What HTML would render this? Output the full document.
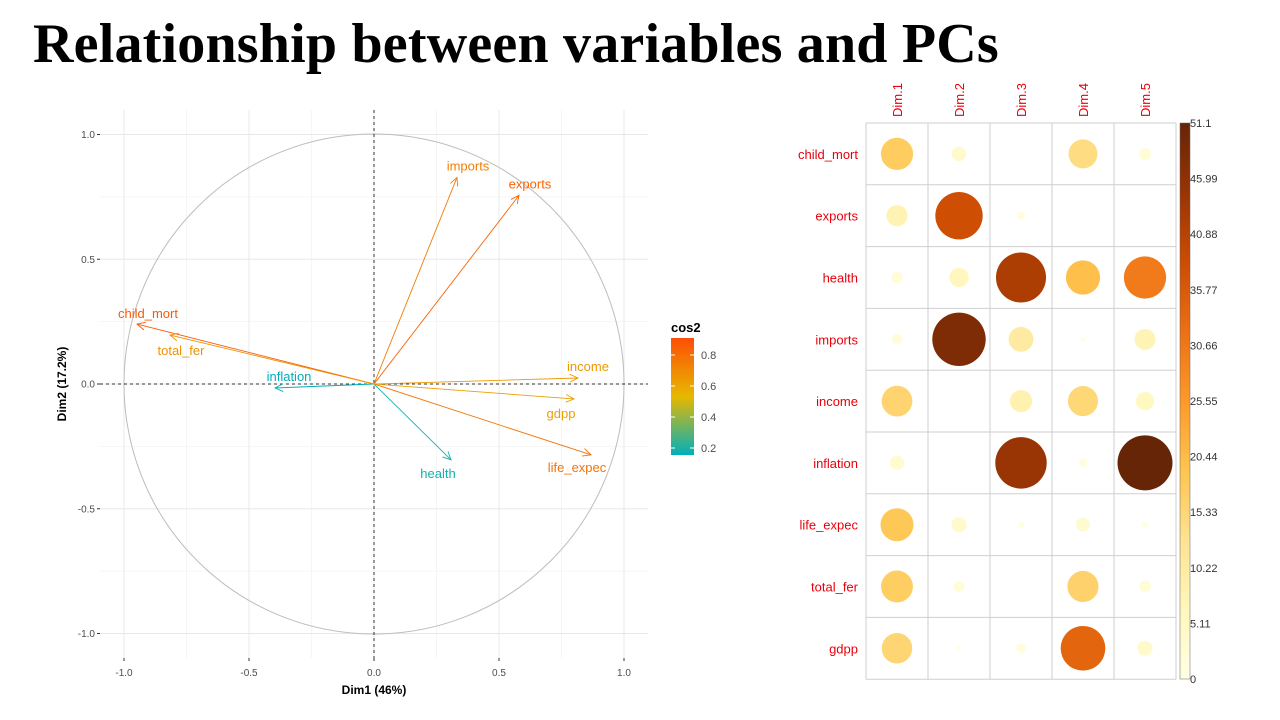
<!DOCTYPE html>
<html><head><meta charset="utf-8">
<style>
body{margin:0;background:#fff;width:1280px;height:720px;overflow:hidden;position:relative;font-family:"Liberation Sans",sans-serif}
#title{position:absolute;left:33px;top:12px;font-family:"Liberation Serif",serif;font-weight:bold;font-size:56px;color:#000;white-space:nowrap;letter-spacing:0.2px}
svg{position:absolute;left:0;top:0}
</style></head><body>
<div id="title">Relationship between variables and PCs</div>
<svg id="chart" width="1280" height="720"></svg>
<script>
// PCA variable circle data
const varNames=["child_mort","exports","health","imports","income","inflation","life_expec","total_fer","gdpp"];
const pc1=[-0.948,0.58,0.308,0.332,0.816,-0.396,0.868,-0.816,0.80];
const pc2=[0.24,0.756,-0.304,0.828,0.024,-0.016,-0.284,0.196,-0.06];
const axisTicks=[-1.0,-0.5,0.0,0.5,1.0];
const minorTicks=[-0.75,-0.25,0.25,0.75];
const legendTicks=[0.2,0.4,0.6,0.8];
// corrplot contributions
const rowNames=["child_mort","exports","health","imports","income","inflation","life_expec","total_fer","gdpp"];
const dimNames=["Dim.1","Dim.2","Dim.3","Dim.4","Dim.5"];
const dim1=[17.6,7.6,2.2,1.9,16.0,3.4,18.4,17.2,15.7];
const dim2=[3.6,37.9,6.3,48.2,0.05,0.02,3.9,2.0,0.4];
const dim3=[0,1.2,42.3,10.4,8.3,44.7,0.6,0.1,1.6];
const dim4=[14.2,0,19.8,0.4,15.3,1.2,3.3,16.4,33.7];
const dim5=[2.4,0.1,30.2,7.4,5.6,51.1,0.7,2.3,3.9];
const cbTicks=["0","5.11","10.22","15.33","20.44","25.55","30.66","35.77","40.88","45.99","51.1"];
const cbMax=51.1;

const svg=document.getElementById('chart');
const NS="http://www.w3.org/2000/svg";
function mk(tag,attrs,parent){const e=document.createElementNS(NS,tag);for(const k in attrs)e.setAttribute(k,attrs[k]);(parent||svg).appendChild(e);return e;}
function txt(s,attrs,parent){const e=mk('text',attrs,parent);e.textContent=s;return e;}

// ---- left chart ----
const X=v=>374+v*250, Y=v=>384-v*249.5;
const PL=100,PR=648,PT=110,PB=658;
const left=mk('g',{});


minorTicks.forEach(v=>{
  mk('line',{x1:X(v),x2:X(v),y1:PT,y2:PB,stroke:'#f3f3f3','stroke-width':0.8},left);
  mk('line',{x1:PL,x2:PR,y1:Y(v),y2:Y(v),stroke:'#f3f3f3','stroke-width':0.8},left);
});
axisTicks.forEach(v=>{
  mk('line',{x1:X(v),x2:X(v),y1:PT,y2:PB,stroke:'#e8e8e8','stroke-width':1},left);
  mk('line',{x1:PL,x2:PR,y1:Y(v),y2:Y(v),stroke:'#e8e8e8','stroke-width':1},left);
  const xt=txt(v.toFixed(1),{x:X(v),y:676,'font-size':10,fill:'#4d4d4d','text-anchor':'middle'});
  
  mk('line',{x1:X(v),x2:X(v),y1:PB,y2:PB+3,stroke:'#333'},left);
  const yt=txt(v.toFixed(1),{x:95,y:Y(v)+3.5,'font-size':10,fill:'#4d4d4d','text-anchor':'end'});
  
  mk('line',{x1:PL-3,x2:PL,y1:Y(v),y2:Y(v),stroke:'#333'},left);
});
mk('circle',{cx:X(0),cy:Y(0),r:250,fill:'none',stroke:'#bdbdbd','stroke-width':1},left);
mk('line',{x1:PL,x2:PR,y1:Y(0),y2:Y(0),stroke:'#333','stroke-dasharray':'3,3'},left);
mk('line',{x1:X(0),x2:X(0),y1:PT,y2:PB,stroke:'#333','stroke-dasharray':'3,3'},left);
function lerp(a,b,t){return Math.round(a+(b-a)*t);}
function grad(c){
  const lo=0.155,hi=1.0,mid=0.53;
  const A=[0,175,187],B=[231,184,0],C=[252,78,7];
  let t,p,q;
  if(c<mid){t=Math.max(0,(c-lo)/(mid-lo));p=A;q=B;}else{t=Math.min(1,(c-mid)/(hi-mid));p=B;q=C;}
  return `rgb(${lerp(p[0],q[0],t)},${lerp(p[1],q[1],t)},${lerp(p[2],q[2],t)})`;
}
const lblDx=[11,11,-13,11,10,14,-14,11,-13];
const lblDy=[-10,-11,14,-11,-11,-11,13,16,15];
varNames.forEach((n,i)=>{
  const x=X(pc1[i]),y=Y(pc2[i]);
  const col=grad(pc1[i]*pc1[i]+pc2[i]*pc2[i]);
  const g=mk('g',{},left);
  
  
  mk('line',{x1:X(0),y1:Y(0),x2:x,y2:y,stroke:col,'stroke-width':0.9},g);
  const ang=Math.atan2(y-Y(0),x-X(0));
  const L=9,a=0.45;
  mk('polyline',{points:`${x-L*Math.cos(ang-a)},${y-L*Math.sin(ang-a)} ${x},${y} ${x-L*Math.cos(ang+a)},${y-L*Math.sin(ang+a)}`,fill:'none',stroke:col,'stroke-width':0.9},g);
  const t=txt(n,{x:x+lblDx[i],y:y+lblDy[i]+4,'font-size':13,fill:col,'text-anchor':'middle'},g);
  
  
});
const xa=txt('Dim1 (46%)',{x:374,y:694,'font-size':12,'font-weight':'bold','text-anchor':'middle',fill:'#000'});

const ya=txt('Dim2 (17.2%)',{x:0,y:0,'font-size':12,'font-weight':'bold','text-anchor':'middle',fill:'#000',transform:'translate(66,384) rotate(-90)'});

// legend
const lg=mk('g',{});


txt('cos2',{x:671,y:332,'font-size':13,'font-weight':'bold',fill:'#000'},lg);
const defs=mk('defs',{});
const lgd=mk('linearGradient',{id:'lg',x1:0,y1:1,x2:0,y2:0},defs);
mk('stop',{offset:'0','stop-color':'#00AFBB'},lgd);mk('stop',{offset:'0.5','stop-color':'#E7B800'},lgd);mk('stop',{offset:'1','stop-color':'#FC4E07'},lgd);
mk('rect',{x:671,y:338,width:23,height:117,fill:'url(#lg)'},lg);
const lY=v=>355+(0.8-v)/0.2*31;
legendTicks.forEach(v=>{
  mk('line',{x1:671,x2:675,y1:lY(v),y2:lY(v),stroke:'#fff'},lg);
  mk('line',{x1:690,x2:694,y1:lY(v),y2:lY(v),stroke:'#fff'},lg);
  txt(v.toFixed(1),{x:701,y:lY(v)+4,'font-size':11,fill:'#4d4d4d'},lg);
});

// ---- corrplot ----
const cp=mk('g',{});


const gx0=866,gy0=123,cw=62,ch=61.8;
const dims=[dim1,dim2,dim3,dim4,dim5];
const pal=[[255,255,229],[255,247,188],[254,227,145],[254,196,79],[254,153,41],[236,112,20],[204,76,2],[153,52,4],[102,37,6]];
function cpCol(v){const t=Math.max(0,Math.min(1,v/cbMax))*(pal.length-1);const i=Math.min(pal.length-2,Math.floor(t)),f=t-i;const p=pal[i],q=pal[i+1];return `rgb(${lerp(p[0],q[0],f)},${lerp(p[1],q[1],f)},${lerp(p[2],q[2],f)})`;}
for(let r=0;r<=rowNames.length;r++)mk('line',{x1:gx0,x2:gx0+cw*5,y1:gy0+r*ch,y2:gy0+r*ch,stroke:'#cfcfcf'},cp);
for(let c=0;c<=5;c++)mk('line',{x1:gx0+c*cw,x2:gx0+c*cw,y1:gy0,y2:gy0+ch*9,stroke:'#cfcfcf'},cp);
rowNames.forEach((n,r)=>{
  const t=txt(n,{x:858,y:gy0+r*ch+ch/2+5,'font-size':13,fill:'#e8000b','text-anchor':'end'},cp);
  
});
dimNames.forEach((n,c)=>{
  const cx=gx0+c*cw+cw/2+5;
  const t=txt(n,{x:0,y:0,'font-size':13,fill:'#e8000b',transform:`translate(${cx},117) rotate(-90)`},cp);
  
});
dims.forEach((arr,c)=>arr.forEach((v,r)=>{
  if(v<=0)return;
  const circ=mk('circle',{cx:gx0+c*cw+cw/2,cy:gy0+r*ch+ch/2,r:27.5*Math.sqrt(v/cbMax),fill:cpCol(v)},cp);
  
  
}));
// colorbar
const cbg=mk('linearGradient',{id:'cb',x1:0,y1:1,x2:0,y2:0},defs);
pal.forEach((p,i)=>mk('stop',{offset:i/(pal.length-1),'stop-color':`rgb(${p})`},cbg));
const cb=mk('g',{},cp);


mk('rect',{x:1180,y:123,width:10,height:556,fill:'url(#cb)',stroke:'#666','stroke-width':0.5},cb);
cbTicks.forEach((s,i)=>{
  const y=679-i*(556/(cbTicks.length-1));
  txt(s,{x:1190,y:y+4,'font-size':11,fill:'#333'},cb);
});
</script>
</body></html>
